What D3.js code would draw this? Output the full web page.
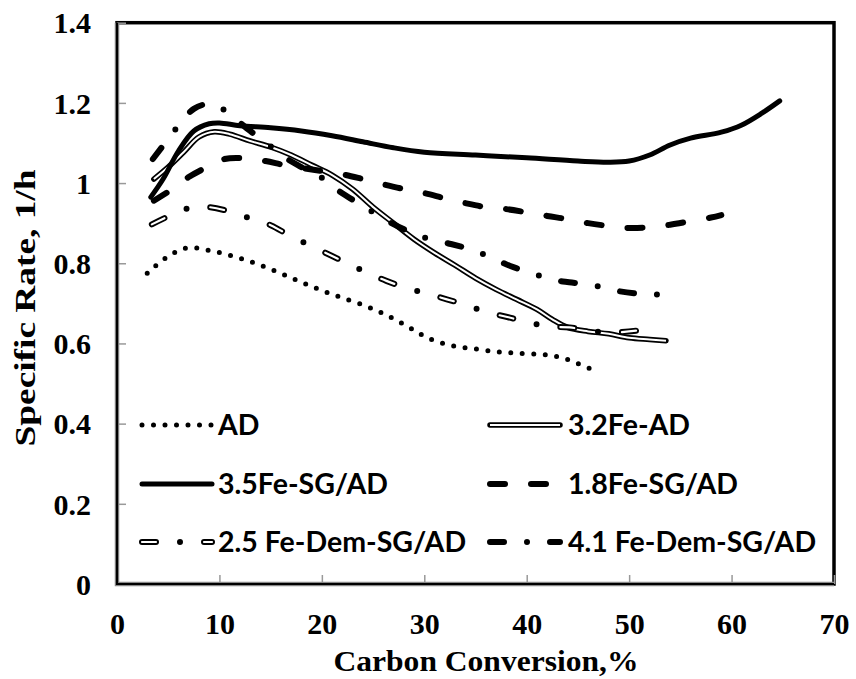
<!DOCTYPE html>
<html>
<head>
<meta charset="utf-8">
<script src="https://cdn.jsdelivr.net/npm/d3@7"></script>
<style>
  body { margin: 0; background: #fff; }
  svg { display: block; }
</style>
</head>
<body>
<div id="chart"></div>
<script>
// series, [carbon conversion %, specific rate 1/h]
var AD = [[2.95,0.775],[4.7,0.812],[6.8,0.838],[9,0.832],[11.3,0.818],[13.5,0.8],[15.7,0.778],
  [17.8,0.755],[19.9,0.733],[22,0.714],[24.3,0.693],[26.3,0.671],[28.4,0.642],[30.4,0.613],
  [32.6,0.595],[34.8,0.587],[37.2,0.579],[39.4,0.575],[41.7,0.572],[43,0.567],[44,0.56],[46.1,0.538]];
var Fe32_AD = [[3.6,1.01],[5,1.04],[6.5,1.077],[8,1.115],[9.5,1.128],[11,1.122],[13,1.105],[15,1.09],
  [17,1.07],[19,1.045],[21,1.02],[23,0.985],[25,0.94],[27,0.9],[29,0.86],[31,0.826],[33,0.795],
  [35,0.763],[37,0.735],[39,0.71],[41,0.685],[42.5,0.66],[44,0.64],[46,0.63],[48,0.624],[50,0.614],
  [52,0.61],[53.6,0.607]];
var Fe35_SG = [[3.3,0.965],[4.5,1.01],[6,1.08],[7.5,1.13],[9,1.148],[10,1.15],[12,1.143],[15,1.138],
  [18,1.13],[21,1.118],[24,1.103],[27,1.088],[30,1.077],[35,1.07],[40,1.063],[45,1.055],[48,1.052],
  [50,1.055],[52,1.07],[54,1.095],[56,1.112],[59,1.127],[61,1.145],[63,1.175],[64.7,1.205]];
var Fe18_SG = [[3.6,0.956],[5.4,0.985],[7,1.015],[8.8,1.04],[10.5,1.06],[12.5,1.062],[14.5,1.055],
  [16.3,1.045],[18,1.038],[20,1.03],[22,1.022],[24,1.01],[26,0.997],[28,0.985],[30,0.975],[32,0.962],
  [34,0.95],[36,0.94],[38,0.935],[40,0.927],[42,0.918],[44,0.91],[46,0.9],[48,0.893],[50,0.888],
  [52,0.89],[54,0.896],[56,0.905],[58,0.914],[59,0.92]];
var Fe25_Dem = [[3.4,0.897],[5.1,0.918],[7.1,0.938],[9,0.94],[11,0.929],[13,0.912],[15,0.895],[17,0.867],
  [19,0.843],[21,0.818],[22.5,0.8],[24.4,0.777],[26.3,0.756],[28.2,0.739],[30.2,0.725],[32.2,0.71],
  [34.1,0.696],[36.1,0.678],[38.1,0.666],[40.1,0.653],[42.2,0.642],[44.2,0.64],[46.3,0.631],
  [48.3,0.627],[50.7,0.632]];
var Fe41_Dem = [[3.5,1.06],[5,1.11],[6.2,1.15],[7.5,1.185],[9,1.198],[10,1.19],[11.3,1.165],[13,1.13],
  [14.6,1.1],[16.2,1.067],[18,1.04],[20,1.013],[21.4,0.985],[23.4,0.952],[25,0.927],[26.8,0.9],
  [28.7,0.877],[30.3,0.862],[32.6,0.848],[34.5,0.835],[36.5,0.815],[38.4,0.793],[40.4,0.777],
  [42.3,0.76],[44.4,0.752],[46.5,0.745],[48.4,0.733],[50.6,0.725],[52.7,0.722],[54.5,0.718]];

var seriesNames = ["AD", "3.2Fe-AD", "3.5Fe-SG/AD", "1.8Fe-SG/AD", "2.5 Fe-Dem-SG/AD", "4.1 Fe-Dem-SG/AD"];
var xTicks = [0, 10, 20, 30, 40, 50, 60, 70];
var yTicks = [0, 0.2, 0.4, 0.6, 0.8, 1, 1.2, 1.4];

// line styles, drawn as stacked strokes
var styles = {
  "AD": [{w: 5, dash: "0 11.5"}],
  "3.2Fe-AD": [{w: 5.5}, {w: 2, color: "#fff", cap: "butt"}],
  "3.5Fe-SG/AD": [{w: 5}],
  "1.8Fe-SG/AD": [{w: 6, dash: "15 26"}],
  "2.5 Fe-Dem-SG/AD": [{w: 6, dash: "14 24 0 24"}, {w: 2.2, color: "#fff", dash: "14 48"}],
  "4.1 Fe-Dem-SG/AD": [{w: 6, dash: "14 23 0 23"}]
};

var width = 856, height = 679;
var margin = {top: 22.7, right: 22, bottom: 95, left: 117};

var svg = d3.select("#chart").append("svg")
  .attr("width", width)
  .attr("height", height);

var x = d3.scaleLinear().domain([0, 70]).range([margin.left, width - margin.right]);
var y = d3.scaleLinear().domain([0, 1.4]).range([height - margin.bottom, margin.top]);

// frame
svg.append("rect")
  .attr("x", x(0)).attr("y", y(1.4))
  .attr("width", x(70) - x(0)).attr("height", y(0) - y(1.4))
  .attr("fill", "none").attr("stroke", "#000").attr("stroke-width", 3.5);

// ticks (inside, grey) and labels
var xAxis = d3.axisBottom(x).tickValues(xTicks).tickSize(-9).tickPadding(29).tickFormat(d3.format("d"));
var yAxis = d3.axisLeft(y).tickValues(yTicks).tickSize(-9).tickPadding(26).tickFormat(function(d) { return d3.format("")(+d.toFixed(1)); });

var gx = svg.append("g").attr("transform", "translate(0," + y(0) + ")").call(xAxis);
var gy = svg.append("g").attr("transform", "translate(" + x(0) + ",0)").call(yAxis);

[gx, gy].forEach(function(g) {
  g.select(".domain").remove();
  g.selectAll(".tick line").attr("stroke", "#999").attr("stroke-width", 1.5);
  g.selectAll(".tick text")
    .attr("fill", "#000")
    .style("font-family", "'Liberation Serif', 'Times New Roman', serif")
    .style("font-weight", "bold")
    .style("font-size", "30px");
});
gx.selectAll(".tick text").attr("dy", "0.71em");
gy.selectAll(".tick text").attr("dy", "0.34em");

// left and bottom axis lines sit over the frame
svg.append("path")
  .attr("d", "M" + x(0) + "," + y(1.4) + "V" + y(0) + "H" + x(70))
  .attr("fill", "none").attr("stroke", "#888").attr("stroke-width", 4.5);
svg.append("path")
  .attr("d", "M" + x(0) + "," + y(1.4) + "V" + y(0) + "H" + x(70))
  .attr("fill", "none").attr("stroke", "#000").attr("stroke-width", 2.2);

// axis titles
svg.append("text")
  .attr("x", 486).attr("y", 671)
  .attr("text-anchor", "middle")
  .attr("textLength", 305).attr("lengthAdjust", "spacingAndGlyphs")
  .style("font-family", "'Liberation Serif', 'Times New Roman', serif")
  .style("font-weight", "bold").style("font-size", "29px")
  .text("Carbon Conversion,%");

svg.append("text")
  .attr("transform", "translate(35,308) rotate(-90)")
  .attr("text-anchor", "middle")
  .attr("textLength", 277).attr("lengthAdjust", "spacingAndGlyphs")
  .style("font-family", "'Liberation Serif', 'Times New Roman', serif")
  .style("font-weight", "bold").style("font-size", "30px")
  .text("Specific Rate, 1/h");

// curves
var line = d3.line()
  .x(function(d) { return x(d[0]); })
  .y(function(d) { return y(d[1]); })
  .curve(d3.curveCatmullRom.alpha(0.5));

var seriesData = [AD, Fe32_AD, Fe35_SG, Fe18_SG, Fe25_Dem, Fe41_Dem];

function drawStroke(sel, layer) {
  sel.attr("fill", "none")
    .attr("stroke", layer.color || "#000")
    .attr("stroke-width", layer.w)
    .attr("stroke-linecap", layer.cap || "round")
    .attr("stroke-linejoin", "round")
    .attr("stroke-dasharray", layer.dash || null);
}

var plot = svg.append("g");
seriesNames.forEach(function(name, i) {
  styles[name].forEach(function(layer) {
    plot.append("path").attr("d", line(seriesData[i])).call(drawStroke, layer);
  });
});

// legend in two columns
var legendRows = [435, 494, 552];
var legendCols = [{x1: 142, x2: 212, tx: 218}, {x1: 490, x2: 560, tx: 568}];
var legend = svg.append("g");
seriesNames.forEach(function(name, i) {
  var col = legendCols[i % 2], base = legendRows[Math.floor(i / 2)];
  var ly = base - 10;
  styles[name].forEach(function(layer) {
    legend.append("path")
      .attr("d", "M" + col.x1 + "," + ly + "H" + col.x2)
      .call(drawStroke, layer);
  });
  legend.append("text")
    .attr("x", col.tx).attr("y", base)
    .style("font-family", "Lato, 'Open Sans', sans-serif")
    .style("font-weight", "bold").style("font-size", "28.5px")
    .text(name);
});
</script>
</body>
</html>
